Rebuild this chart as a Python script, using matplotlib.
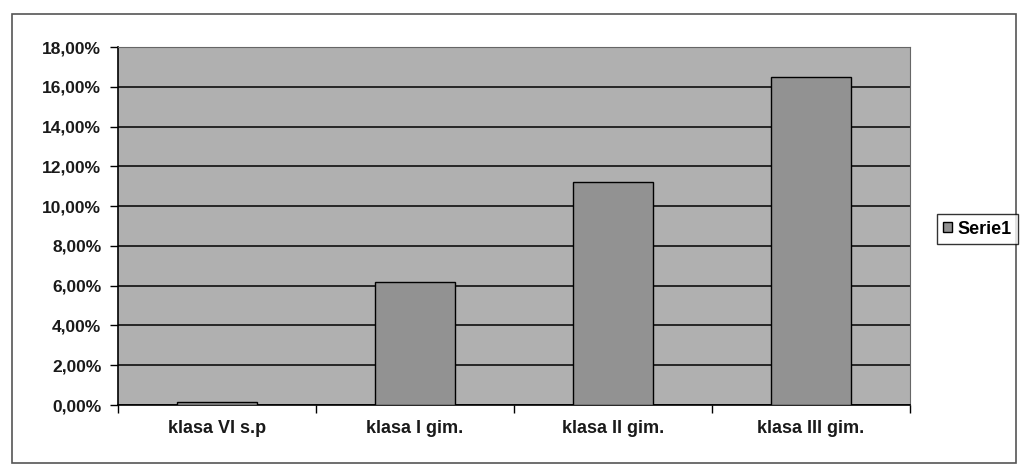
import matplotlib.pyplot as plt
from matplotlib.patches import Rectangle
from matplotlib.ticker import FuncFormatter

# categories and values (percent)
kategorie = ['klasa VI s.p', 'klasa I gim.', 'klasa II gim.', 'klasa III gim.']
wartosci = [0.15, 6.18, 11.2, 16.5]
seria = 'Serie1'

plt.rcParams['font.family'] = ['Liberation Sans', 'DejaVu Sans']

fig = plt.figure(figsize=(10.21, 4.66), dpi=100)
ax = fig.add_axes([118 / 1021, 1 - 405 / 466, (910 - 118) / 1021, (405 - 47) / 466])

# chart area border
fig.patches.append(Rectangle((12 / 1021, 1 - 463 / 466), (1016 - 12) / 1021, (463 - 14) / 466,
                             transform=fig.transFigure, fill=False, edgecolor='#555555', lw=1.2))

ax.set_facecolor('#b0b0b0')
x = range(len(kategorie))
ax.bar(x, wartosci, width=0.4, color='#929292', edgecolor='black', linewidth=1.0,
       label=seria, zorder=3)

ax.set_xlim(-0.5, len(kategorie) - 0.5)
ax.set_ylim(0, 18)
ax.set_yticks(range(0, 19, 2))
ax.yaxis.set_major_formatter(FuncFormatter(lambda v, p: f'{v:.2f}%'.replace('.', ',')))
ax.grid(axis='y', color='black', lw=1.1, zorder=1)
ax.set_axisbelow(True)

ax.set_xticks(list(x))
ax.set_xticklabels(kategorie)
ax.set_xticks([i - 0.5 for i in range(len(kategorie) + 1)], minor=True)
ax.tick_params(axis='x', which='major', length=0, pad=11)
ax.tick_params(axis='x', which='minor', length=6, width=1, direction='out')
ax.tick_params(axis='y', length=6, width=1, direction='out', pad=6)
for lab in ax.get_yticklabels():
    lab.set_fontsize(12.5)
    lab.set_fontweight('bold')
    lab.set_color('#1a1a1a')
for lab in ax.get_xticklabels():
    lab.set_fontsize(13)
    lab.set_fontweight('bold')
    lab.set_color('#1a1a1a')

for s in ['top', 'right']:
    ax.spines[s].set_color('#666666')
    ax.spines[s].set_linewidth(0.8)
for s in ['left', 'bottom']:
    ax.spines[s].set_color('black')
    ax.spines[s].set_linewidth(1.2)

leg = fig.legend(loc='center left', bbox_to_anchor=(928 / 1021, 1 - 229 / 466),
                 frameon=True, fancybox=False, edgecolor='black', handlelength=0.5,
                 handleheight=0.5, handletextpad=0.3, borderpad=0.35,
                 prop={'size': 13, 'weight': 'bold'})
leg.get_frame().set_linewidth(1.0)

fig.savefig('out.png', dpi=100, facecolor='white')
